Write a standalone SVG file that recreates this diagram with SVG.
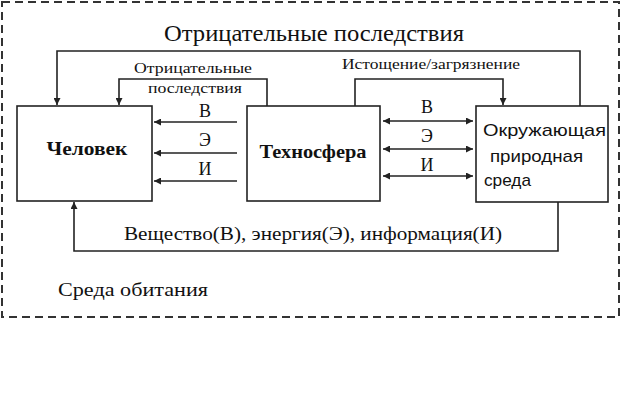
<svg xmlns="http://www.w3.org/2000/svg" width="622" height="406" viewBox="0 0 622 406">
<defs>
<marker id="ah" viewBox="0 0 10 10" refX="10" refY="5" markerWidth="8" markerHeight="7" markerUnits="userSpaceOnUse" orient="auto-start-reverse">
<path d="M0,0 L10,5 L0,10 z" fill="#222"/>
</marker>
<style>
.box{fill:#fff;stroke:#222;stroke-width:1.6}
.ln{fill:none;stroke:#222;stroke-width:1.6}
.ser{fill:#111}
.san{fill:#111}
.frame{fill:none;stroke:#333;stroke-width:2;stroke-dasharray:8 5}
</style>
</defs>
<rect x="0" y="0" width="622" height="406" fill="#fff"/>
<rect class="frame" x="2" y="2" width="617" height="315"/>

<g id="connectors">
<path class="ln" d="M580,106 V51 H57 V105" marker-end="url(#ah)"/>
<path class="ln" d="M267,106 V79 H119 V105" marker-end="url(#ah)"/>
<path class="ln" d="M355,106 V79 H503 V105" marker-end="url(#ah)"/>
<path class="ln" d="M558,202 V251 H74 V202" marker-end="url(#ah)"/>
<path class="ln" d="M237,122 H154" marker-end="url(#ah)"/>
<path class="ln" d="M237,153 H154" marker-end="url(#ah)"/>
<path class="ln" d="M237,181 H154" marker-end="url(#ah)"/>
<path class="ln" d="M383,121 H473" marker-start="url(#ah)" marker-end="url(#ah)"/>
<path class="ln" d="M383,149 H473" marker-start="url(#ah)" marker-end="url(#ah)"/>
<path class="ln" d="M383,176 H473" marker-start="url(#ah)" marker-end="url(#ah)"/>
</g>

<g id="labels" font-family="'Liberation Serif', 'DejaVu Serif', serif">
<text class="ser" x="164" y="41" font-size="23" textLength="300" lengthAdjust="spacingAndGlyphs">Отрицательные последствия</text>
<text class="ser" x="134" y="73" font-size="15" textLength="118" lengthAdjust="spacingAndGlyphs">Отрицательные</text>
<text class="ser" x="148" y="93" font-size="15" textLength="94" lengthAdjust="spacingAndGlyphs">последствия</text>
<text class="ser" x="342" y="69" font-size="15" textLength="178" lengthAdjust="spacingAndGlyphs">Истощение/загрязнение</text>
<text class="ser" x="205" y="117" font-size="18" text-anchor="middle">В</text>
<text class="ser" x="205" y="146" font-size="18" text-anchor="middle">Э</text>
<text class="ser" x="205" y="175" font-size="18" text-anchor="middle">И</text>
<text class="ser" x="427" y="113" font-size="18" text-anchor="middle">В</text>
<text class="ser" x="427" y="142" font-size="18" text-anchor="middle">Э</text>
<text class="ser" x="427" y="171" font-size="18" text-anchor="middle">И</text>
<text class="ser" x="124" y="240" font-size="19" textLength="378" lengthAdjust="spacingAndGlyphs">Вещество(В), энергия(Э), информация(И)</text>
<text class="ser" x="58" y="296" font-size="19" textLength="150" lengthAdjust="spacingAndGlyphs">Среда обитания</text>
</g>

<g id="node-chelovek" font-family="'Liberation Serif', 'DejaVu Serif', serif">
<rect class="box" x="17" y="106" width="135" height="95"/>
<text class="ser" x="87" y="155" font-size="19" font-weight="bold" text-anchor="middle" textLength="81" lengthAdjust="spacingAndGlyphs">Человек</text>
</g>
<g id="node-tehnosfera" font-family="'Liberation Serif', 'DejaVu Serif', serif">
<rect class="box" x="247" y="106" width="133" height="95"/>
<text class="ser" x="313" y="158" font-size="19" font-weight="bold" text-anchor="middle" textLength="107" lengthAdjust="spacingAndGlyphs">Техносфера</text>
</g>
<g id="node-sreda" font-family="'Liberation Sans', Arial, sans-serif">
<rect class="box" x="476" y="106" width="132" height="96"/>
<text class="san" x="483" y="136" font-size="17" textLength="123" lengthAdjust="spacingAndGlyphs">Окружающая</text>
<text class="san" x="490" y="162" font-size="17" textLength="93" lengthAdjust="spacingAndGlyphs">природная</text>
<text class="san" x="484" y="186" font-size="17" textLength="47" lengthAdjust="spacingAndGlyphs">среда</text>
</g>
</svg>
